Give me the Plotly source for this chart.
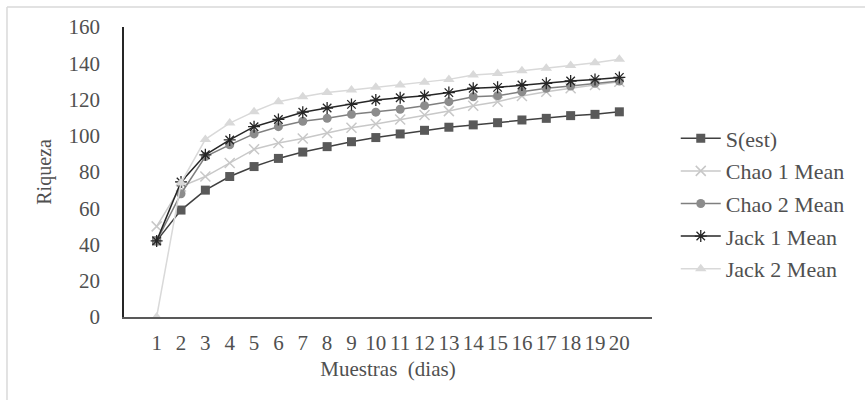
import plotly.graph_objects as go

# Sampling days (x axis categories)
muestras = list(range(1, 21))

# Species richness estimators per sampling day
s_est = [42, 59, 70, 77.5, 83, 87.5, 91, 94, 96.7, 99, 101, 103, 104.7, 106, 107.2, 108.7, 109.6, 111.1, 111.8, 113.2]
chao1 = [50, 72, 77.5, 85, 92.5, 96, 98.5, 101.5, 104.4, 106.5, 109, 111.4, 113.6, 116.6, 118.8, 121.9, 124.3, 126.2, 128, 129.8]
chao2 = [42, 68, 88.5, 95, 101, 105, 108, 109.6, 111.8, 113, 114.6, 116.6, 118.8, 121.5, 122.1, 124.3, 126.2, 127.4, 128.9, 130.2]
jack1 = [42, 74.5, 89.5, 97.7, 105, 109, 113, 115.3, 117.3, 119.7, 121, 122.1, 123.8, 126.2, 126.7, 128, 128.9, 130.2, 131.1, 132.2]
jack2 = [0, 74, 98, 107, 113.3, 118.8, 121.5, 123.8, 125.2, 126.7, 128, 129.5, 131.1, 133.5, 134.4, 135.9, 137.2, 138.7, 140.3, 142.2]

y_ticks = [0, 20, 40, 60, 80, 100, 120, 140, 160]

FONT = "Liberation Serif, Times New Roman, serif"
TEXT = "#505050"

series = [
    ("S(est)", s_est, "#404040", dict(symbol="square", size=9, color="#595959")),
    ("Chao 1 Mean", chao1, "#c8c8c8", dict(symbol="x-thin-open", size=10,
                                           line=dict(color="#bfbfbf", width=1.5))),
    ("Chao 2 Mean", chao2, "#7f7f7f", dict(symbol="circle", size=9, color="#8c8c8c")),
    ("Jack 1 Mean", jack1, "#262626", dict(symbol="asterisk-open", size=10,
                                           line=dict(color="#1a1a1a", width=1.3))),
    ("Jack 2 Mean", jack2, "#d9d9d9", dict(symbol="triangle-up", size=10, color="#d9d9d9")),
]

x_labels = [str(m) for m in muestras]

fig = go.Figure()
for name, values, lc, marker in series:
    fig.add_trace(go.Scatter(
        x=x_labels, y=values, name=name,
        mode="lines+markers",
        line=dict(color=lc, width=1.5),
        marker=marker,
        legendgroup=name,
    ))

fig.update_layout(
    width=865, height=400,
    margin=dict(l=124, r=213, t=27, b=83),
    paper_bgcolor="white", plot_bgcolor="white",
    font=dict(family=FONT, size=20, color=TEXT),
    showlegend=True,
    legend=dict(
        x=1.045, xanchor="left", y=0.688, yanchor="top",
        font=dict(family=FONT, size=22, color=TEXT),
        tracegroupgap=1,
        itemwidth=40,
        bgcolor="rgba(0,0,0,0)",
    ),
    xaxis=dict(
        type="category",
        tickmode="array", tickvals=x_labels, ticktext=x_labels, tickangle=0,
        showgrid=False, zeroline=False,
        showline=True, linecolor="#595959", linewidth=2,
        ticks="", ticklabelstandoff=6,
        tickfont=dict(family=FONT, size=21, color=TEXT),
        title=dict(text="Muestras  (dias)", standoff=7,
                   font=dict(family=FONT, size=21, color=TEXT)),
    ),
    yaxis=dict(
        range=[0, 160], tickvals=y_ticks,
        showgrid=False, zeroline=False,
        showline=True, linecolor="#262626", linewidth=1.5,
        ticks="", ticklabelstandoff=18,
        tickfont=dict(family=FONT, size=21, color=TEXT),
        title=dict(text="Riqueza", standoff=12,
                   font=dict(family=FONT, size=20, color=TEXT)),
    ),
    shapes=[
        dict(type="line", xref="paper", yref="paper",
             x0=-0.2216, x1=1.5, y0=1.069, y1=1.069,
             line=dict(color="#d9d9d9", width=1.5)),
        dict(type="line", xref="paper", yref="paper",
             x0=-0.2216, x1=-0.2216, y0=1.069, y1=-0.4,
             line=dict(color="#d9d9d9", width=1.5)),
    ],
)

fig.write_html("out.html")
